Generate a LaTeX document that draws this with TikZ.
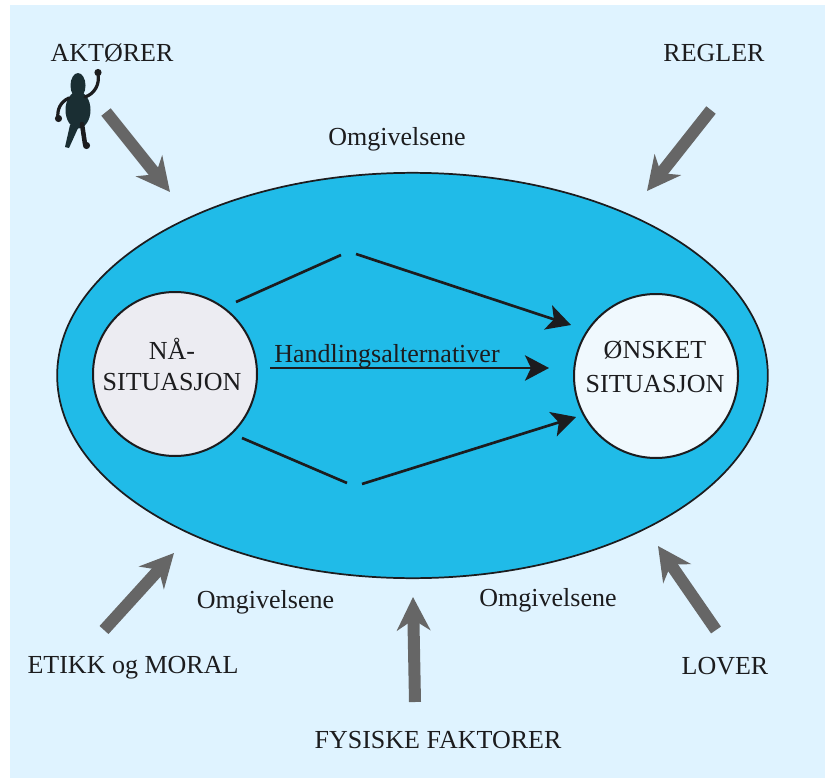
\documentclass[tikz,border=0pt]{standalone}
\usepackage{fontspec}
\setmainfont{Liberation Serif}
\usetikzlibrary{arrows.meta,shapes.geometric}
\definecolor{panel}{HTML}{DFF3FF}
\definecolor{lake}{HTML}{20BBE8}
\definecolor{ink}{HTML}{1C1C1E}
\definecolor{greyarrow}{HTML}{666666}
\definecolor{figure}{HTML}{1A2E33}
\definecolor{nowfill}{HTML}{ECECF2}
\definecolor{goalfill}{HTML}{F0F9FE}
\tikzset{
  x=0.75pt,y=-0.75pt,
  label text/.style={text=ink,font=\fontsize{19.5}{24}\selectfont,inner sep=0pt,align=center},
  state/.style={circle,draw=ink,line width=1.5pt,minimum size=123pt,inner sep=0pt},
  push/.style={draw=greyarrow,line width=9pt,-{Stealth[length=25pt,width=25pt,inset=8pt]}},
  flow/.style={draw=ink,line width=2pt,-{Stealth[length=18pt,width=19pt,inset=4.5pt]}},
  flowstart/.style={draw=ink,line width=2pt},
  limb/.style={draw=ink,line width=2.4pt,line cap=round},
}
\begin{document}
\begin{tikzpicture}
\useasboundingbox (0,0) rectangle (825,778);
\fill[panel] (10,5) rectangle (825,778);
\node[ellipse,draw=ink,line width=1.3pt,fill=lake,minimum width=533pt,minimum height=304pt,inner sep=0pt] (field) at (412.5,375.5) {};
\node[state,fill=nowfill] (now) at (175,374) {};
\node[state,fill=goalfill] (goal) at (656,376) {};
\node[label text] (nowa) at (172,349) {NÅ-};
\node[label text] (nowb) at (172,382.5) {SITUASJON};
\node[label text] (goala) at (655,350) {ØNSKET};
\node[label text] (goalb) at (655,384.5) {SITUASJON};
\node[label text] (hand) at (387,356) {Handlingsalternativer};
\node[label text] (aktor) at (112,53.5) {AKTØRER};
\node[label text] (regler) at (714,53.5) {REGLER};
\node[label text] (omga) at (397,139) {Omgivelsene};
\node[label text] (omgb) at (265.5,602) {Omgivelsene};
\node[label text] (omgc) at (548,600.5) {Omgivelsene};
\node[label text] (etikk) at (133,668) {ETIKK og MORAL};
\node[label text] (lover) at (725,666) {LOVER};
\node[label text] (fysisk) at (438,740.5) {FYSISKE FAKTORER};
% grey arrows
\coordinate (a1) at (106,112); \coordinate (a2) at (170,192);
\coordinate (b1) at (711,110); \coordinate (b2) at (647,191);
\coordinate (c1) at (104,630); \coordinate (c2) at (174,553);
\coordinate (d1) at (415,702); \coordinate (d2) at (413,597);
\coordinate (e1) at (716,630); \coordinate (e2) at (658,546);
\draw[push] (a1) -- (a2);
\draw[push] (b1) -- (b2);
\draw[push] (c1) -- (c2);
\draw[push] (d1) -- (d2);
\draw[push] (e1) -- (e2);
% black connectors
\coordinate (t1) at (236,302); \coordinate (t2) at (341,255);
\coordinate (t3) at (356,254); \coordinate (t4) at (571,325);
\coordinate (m1) at (270,368); \coordinate (m2) at (549,368);
\coordinate (u1) at (242,438); \coordinate (u2) at (347,483);
\coordinate (u3) at (362,484); \coordinate (u4) at (576,417);
\draw[flowstart] (t1) -- (t2);
\draw[flow] (t3) -- (t4);
\draw[flow] (m1) -- (m2);
\draw[flowstart] (u1) -- (u2);
\draw[flow] (u3) -- (u4);
% figure
\fill[figure] (78,85.5) ellipse [x radius=7.5,y radius=12.5];
\fill[figure] (78,110) ellipse [x radius=12.5,y radius=18.5];
\draw[limb] (85,97) .. controls (94,94) and (100,85) .. (98,74);
\fill[ink] (98,72.5) circle (3.6);
\draw[limb] (69,98) .. controls (60,102) and (57,110) .. (58,118);
\fill[ink] (58.5,118.5) circle (3.6);
\fill[figure] (70,125) -- (79,126) -- (69,148) -- (65,147) -- cycle;
\draw[limb,line width=3.4pt] (82,124) -- (85,144);
\fill[ink] (86.5,145.5) circle (3.6);
\end{tikzpicture}
\end{document}
